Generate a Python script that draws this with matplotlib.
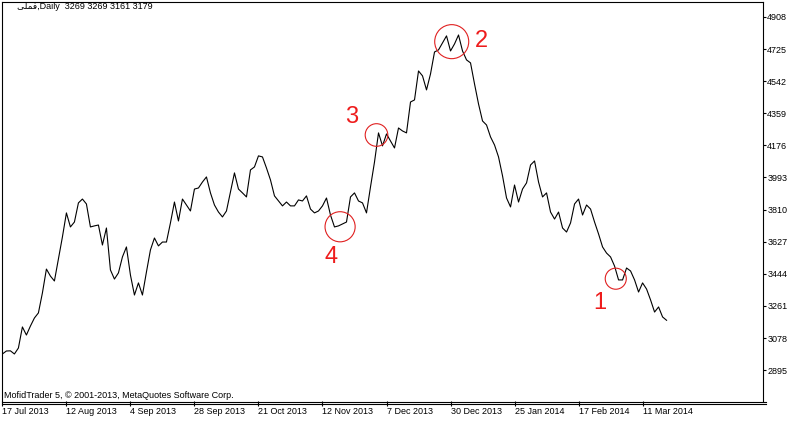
import matplotlib
matplotlib.use("Agg")
import matplotlib.pyplot as plt
from matplotlib.lines import Line2D

# daily closes, one per bar
closes = [
    2987, 3004, 3005, 2987, 3021, 3141, 3095, 3146, 3192, 3221,
    3335, 3471, 3431, 3403, 3528, 3654, 3791, 3711, 3739, 3848,
    3870, 3842, 3711, 3717, 3722, 3608, 3705, 3466, 3414, 3449,
    3540, 3597, 3437, 3323, 3392, 3323, 3454, 3580, 3648, 3603,
    3625, 3625, 3734, 3853, 3745, 3870, 3836, 3802, 3927, 3933,
    3967, 3996, 3905, 3836, 3796, 3768, 3802, 3910, 4019, 3927,
    3905, 3882, 4036, 4053, 4116, 4110, 4047, 3979, 3888, 3859,
    3831, 3853, 3831, 3831, 3865, 3859, 3888, 3813, 3791, 3802,
    3831, 3876, 3779, 3711, 3717, 3728, 3739, 3882, 3905, 3859,
    3848, 3791, 3939, 4081, 4247, 4173, 4241, 4201, 4161, 4275,
    4258, 4247, 4423, 4435, 4600, 4572, 4492, 4583, 4708, 4720,
    4760, 4800, 4714, 4754, 4805, 4714, 4663, 4646, 4526, 4412,
    4315, 4292, 4224, 4178, 4110, 4002, 3876, 3825, 3950, 3853,
    3927, 3962, 4064, 4087, 3967, 3882, 3905, 3796, 3756, 3796,
    3705, 3682, 3734, 3842, 3870, 3779, 3836, 3813, 3739, 3671,
    3597, 3562, 3540, 3488, 3409, 3409, 3477, 3460, 3409, 3340,
    3392, 3357, 3295, 3226, 3255, 3198, 3179,
]

date_ticks = [0, 16, 32, 48, 64, 80, 96, 112, 128, 144, 160]
date_labels = ["17 Jul 2013", "12 Aug 2013", "4 Sep 2013", "28 Sep 2013",
               "21 Oct 2013", "12 Nov 2013", "7 Dec 2013", "30 Dec 2013",
               "25 Jan 2014", "17 Feb 2014", "11 Mar 2014"]
price_ticks = [4908, 4725, 4542, 4359, 4176, 3993, 3810, 3627, 3444, 3261, 3078, 2895]

# marked points: circle centre (bar, price), circle size, label position
mark_labels = ["1", "2", "3", "4"]
mark_bar = [153.3, 112.3, 93.5, 84.4]
mark_price = [3416, 4767, 4235, 3712]
mark_size = [230, 600, 265, 470]
label_bar = [149.4, 119.8, 87.3, 82.1]
label_price = [3279, 4773, 4336, 3540]

header = "\ufbfd\ufee0\ufee4\ufed3,Daily  3269 3269 3161 3179"
footer = "MofidTrader 5, \u00a9 2001-2013, MetaQuotes Software Corp."

W, H = 806, 424
fig = plt.figure(figsize=(W / 100, H / 100), dpi=100)
ax = fig.add_axes([2 / W, 1 - 401 / H, 761 / W, 399 / H])

ax.plot(range(len(closes)), closes, color="black", lw=0.8)
ax.scatter(mark_bar, mark_price, s=mark_size, facecolors="none",
           edgecolors="#e02020", linewidths=0.8, zorder=3)
for t, bx, py in zip(mark_labels, label_bar, label_price):
    ax.text(bx, py, t, color="#ee1c1c", fontsize=17, family="Liberation Sans",
            ha="center", va="center")

ax.set_xlim(-0.1, 190.1)
ax.set_ylim(2719, 4993)

ax.set_xticks(date_ticks)
ax.set_xticklabels(date_labels, ha="left", family="Liberation Sans", fontsize=6.5)
ax.yaxis.tick_right()
ax.set_yticks(price_ticks)
ax.set_yticklabels([str(p) for p in price_ticks], family="Liberation Sans", fontsize=6.5)
ax.tick_params(axis="x", direction="out", length=3.6, width=0.8, pad=0.5)
ax.tick_params(axis="y", direction="out", length=2.2, width=0.8, pad=0.8)

for side in ["left", "top", "right"]:
    ax.spines[side].set_linewidth(0.8)
ax.spines["bottom"].set_visible(False)

# double line along the bottom, like the terminal window
for ypx in (401.5, 404):
    fig.add_artist(Line2D([2 / W, 766 / W], [1 - ypx / H, 1 - ypx / H],
                          color="black", lw=0.8, transform=fig.transFigure))

fig.text(17 / W, 1 - 6.5 / H, header, fontsize=6.5, va="center",
         family=["Liberation Sans", "DejaVu Sans"])
fig.text(4 / W, 1 - 396 / H, footer, fontsize=6.5, va="center",
         family="Liberation Sans")

fig.savefig("out.png", dpi=100)
